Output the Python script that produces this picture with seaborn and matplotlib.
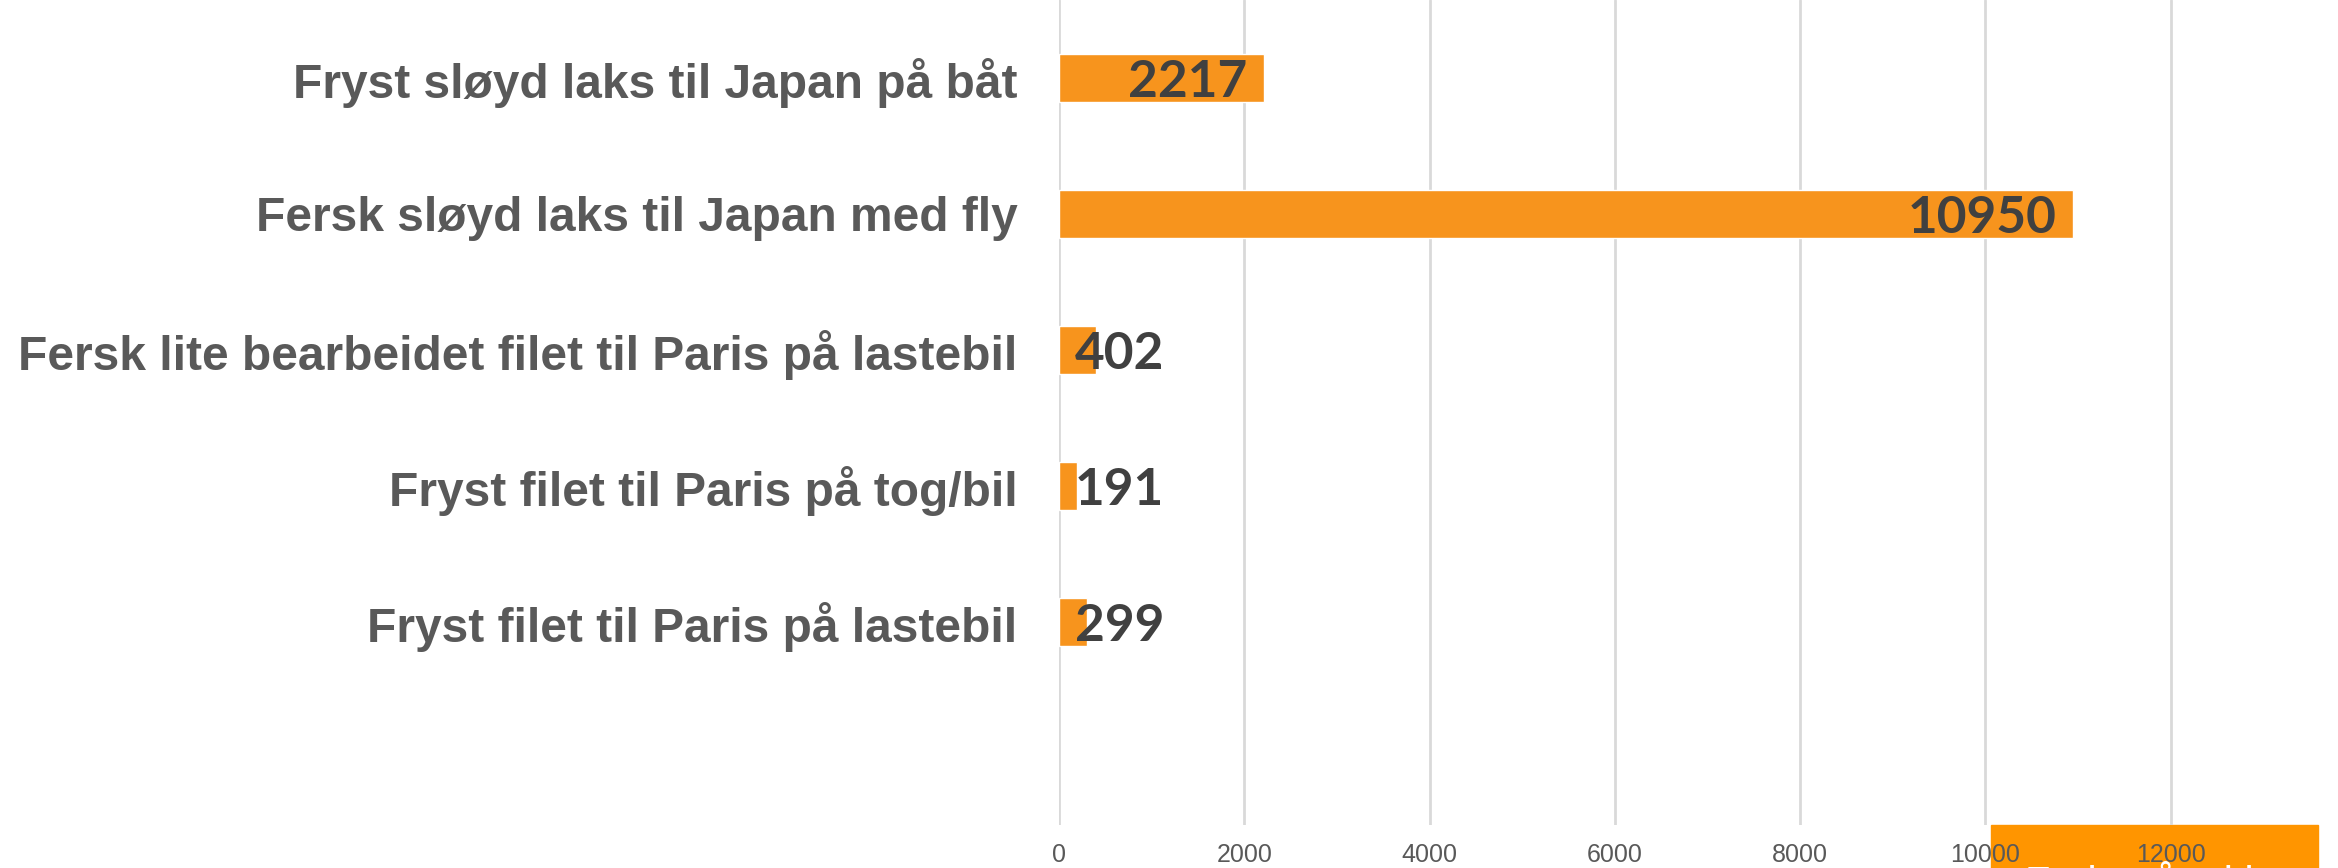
import pandas as pd
import matplotlib.pyplot as plt
from matplotlib import font_manager
import seaborn as sns

# Data
categories = [
    "Fryst sløyd laks til Japan på båt",
    "Fersk sløyd laks til Japan med fly",
    "Fersk lite bearbeidet filet til Paris på lastebil",
    "Fryst filet til Paris på tog/bil",
    "Fryst filet til Paris på lastebil",
]
values = [2217, 10950, 402, 191, 299]
xticks = [0, 2000, 4000, 6000, 8000, 10000, 12000]

BAR = "#F7941D"
LABEL = "#595959"
VALUE = "#404040"

df = pd.DataFrame({"kategori": categories, "verdi": values})

sns.set_theme(style="white")
plt.rcParams["font.family"] = ["Liberation Sans", "DejaVu Sans"]

# narrow font for the x ticks if it is there
try:
    font_manager.findfont("Liberation Sans Narrow", fallback_to_default=False)
    tick_font, tick_size = "Liberation Sans Narrow", 20
except ValueError:
    tick_font, tick_size = "Liberation Sans", 18

fig = plt.figure(figsize=(23.38, 8.68), dpi=100)
ax = fig.add_axes([1059 / 2338, 1 - 825 / 868, 1297 / 2338, 825 / 868])
ax.patch.set_alpha(0)

sns.barplot(data=df, x="verdi", y="kategori", orient="h", color=BAR,
            width=0.353, saturation=1, ax=ax, zorder=2)

ax.set_xlim(0, 14000)
ax.set_ylim(5.496, -0.57)
ax.set_xticks(xticks)
ax.set_xticklabels([str(t) for t in xticks], family=tick_font)
ax.xaxis.grid(True, color="#D9D9D9", linewidth=2, zorder=0)
ax.set_axisbelow(True)
for s in ax.spines.values():
    s.set_visible(False)
ax.set_xlabel("")
ax.set_ylabel("")
ax.tick_params(axis="y", length=0, pad=30, labelsize=34.5, labelcolor=LABEL)
ax.tick_params(axis="x", length=0, pad=13, labelsize=tick_size, labelcolor=LABEL)
for t in ax.get_yticklabels():
    t.set_fontweight("bold")

# value labels: inside end when they fit, else from the base
for i, v in enumerate(values):
    if v > 1000:
        ax.annotate(str(v), xy=(v, i), xytext=(-17, 0), textcoords="offset pixels",
                    ha="right", va="center_baseline", fontsize=37, fontweight="bold",
                    color=VALUE, family=["Lato", "DejaVu Sans"], zorder=3)
    else:
        ax.annotate(str(v), xy=(0, i), xytext=(16, 0), textcoords="offset pixels",
                    ha="left", va="center_baseline", fontsize=37, fontweight="bold",
                    color=VALUE, family=["Lato", "DejaVu Sans"], zorder=3)

# cut-off legend box in the bottom right corner, under the tick labels
fig.patches.append(plt.Rectangle((1991 / 2338, 0), 327 / 2338, 43 / 868,
                                 transform=fig.transFigure, color="#FF9500", zorder=-2))
fig.text(2025 / 2338, -28 / 868, "Fraktmåte i kg", color="white", fontsize=30,
         ha="left", va="baseline", zorder=-1)

fig.savefig("out.png", dpi=100)
